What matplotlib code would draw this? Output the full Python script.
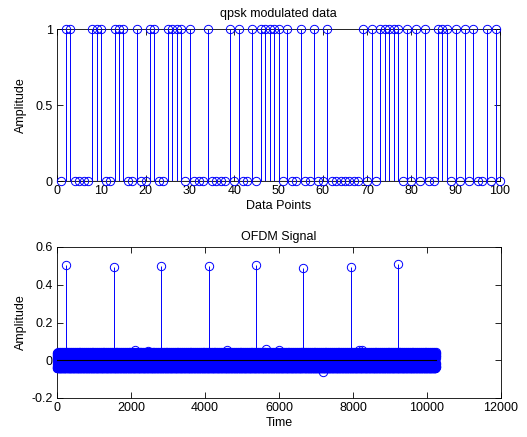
import numpy as np
import matplotlib
matplotlib.use("Agg")
import matplotlib.pyplot as plt

plt.rcParams['font.family'] = ['Liberation Sans', 'DejaVu Sans']

# ---- data: QPSK bits (index 1..100) ----
qpsk_bits = [0, 1, 1, 0, 0, 0, 0, 1, 1, 1,
             0, 0, 1, 1, 1, 0, 0, 1, 0, 0,
             1, 1, 0, 0, 1, 1, 1, 1, 0, 1,
             0, 0, 0, 1, 0, 0, 0, 0, 1, 0,
             1, 0, 0, 1, 0, 1, 1, 1, 1, 1,
             0, 1, 0, 0, 1, 0, 0, 1, 0, 0,
             1, 0, 0, 0, 0, 0, 0, 0, 1, 0,
             1, 0, 1, 1, 1, 1, 1, 0, 1, 0,
             1, 0, 1, 0, 0, 1, 1, 1, 0, 1,
             0, 1, 0, 1, 0, 0, 1, 0, 1, 0]

# ---- data: OFDM signal ----
ofdm_length = 10240
# hand-read amplitude texture of the dense band (repeated over the length)
ofdm_band = [0.026, -0.036, 0.015, 0.040, -0.021, -0.042, 0.030, -0.010,
             0.037, -0.032, 0.018, -0.039, 0.007, 0.041, -0.026, 0.023,
             -0.037, 0.033, -0.016, 0.038, -0.042, 0.012, 0.028, -0.030,
             0.040, -0.024, 0.003, -0.040, 0.035, -0.013, 0.025, -0.034,
             0.042, -0.029, 0.010, 0.032, -0.038, 0.020, -0.018, 0.036,
             -0.041, 0.030, -0.007, 0.039, -0.033, 0.016, -0.025, 0.034,
             -0.036, 0.022]
# a few larger excursions visible at the band edges
outlier_pos = [2100, 2450, 4600, 5650, 6000, 7200, 8150, 8250]
outlier_val = [0.055, 0.050, 0.052, 0.062, 0.056, -0.062, 0.052, 0.055]
# tall pilot-like peaks
peak_pos = [256, 1536, 2816, 4096, 5376, 6656, 7936, 9216]
peak_val = [0.505, 0.495, 0.500, 0.500, 0.505, 0.488, 0.495, 0.512]

ofdm = np.resize(np.array(ofdm_band), ofdm_length)
ofdm[np.array(outlier_pos) - 1] = outlier_val
ofdm[np.array(peak_pos) - 1] = peak_val
t = np.arange(1, ofdm_length + 1)
n = np.arange(1, len(qpsk_bits) + 1)

W, H = 527, 437
fig = plt.figure(figsize=(W / 100, H / 100), dpi=100)
fig.patch.set_facecolor('white')

blue = (0, 0, 1)
fs = 9


def style(ax):
    ax.tick_params(direction='in', top=True, right=True, length=4, width=0.6,
                   labelsize=fs, pad=3)
    for s in ax.spines.values():
        s.set_linewidth(0.6)
        s.set_color('black')
        s.set_zorder(0.5)


def draw_stem(ax, x, y):
    ml, sl, bl = ax.stem(x, y, linefmt='-', markerfmt='o', basefmt='k-')
    plt.setp(sl, color=blue, linewidth=0.7)
    plt.setp(ml, markerfacecolor='none', markeredgecolor=blue,
             markersize=6, markeredgewidth=0.7, clip_on=False)
    plt.setp(bl, color='black', linewidth=0.8)


# top axes
ax1 = fig.add_axes([57 / W, 1 - 181 / H, 443 / W, 152 / H])
draw_stem(ax1, n, qpsk_bits)
ax1.set_xlim(0, 100)
ax1.set_ylim(0, 1)
ax1.set_xticks(np.arange(0, 101, 10))
ax1.set_yticks([0, 0.5, 1])
ax1.set_yticklabels(['0', '0.5', '1'])
ax1.set_title('qpsk modulated data', fontsize=fs, pad=9)
ax1.set_xlabel('Data Points', fontsize=fs, labelpad=2)
ax1.set_ylabel('Amplitude', fontsize=fs, labelpad=6)
style(ax1)

# bottom axes
ax2 = fig.add_axes([57 / W, 1 - 398 / H, 444 / W, 151 / H])
draw_stem(ax2, t, ofdm)
ax2.set_xlim(0, 12000)
ax2.set_ylim(-0.2, 0.6)
ax2.set_xticks(np.arange(0, 12001, 2000))
ax2.set_yticks([-0.2, 0, 0.2, 0.4, 0.6])
ax2.set_yticklabels(['-0.2', '0', '0.2', '0.4', '0.6'])
ax2.set_title('OFDM Signal', fontsize=fs, pad=5)
ax2.set_xlabel('Time', fontsize=fs, labelpad=2)
ax2.set_ylabel('Amplitude', fontsize=fs, labelpad=3)
style(ax2)

fig.savefig('out.png', dpi=100, facecolor='white')
